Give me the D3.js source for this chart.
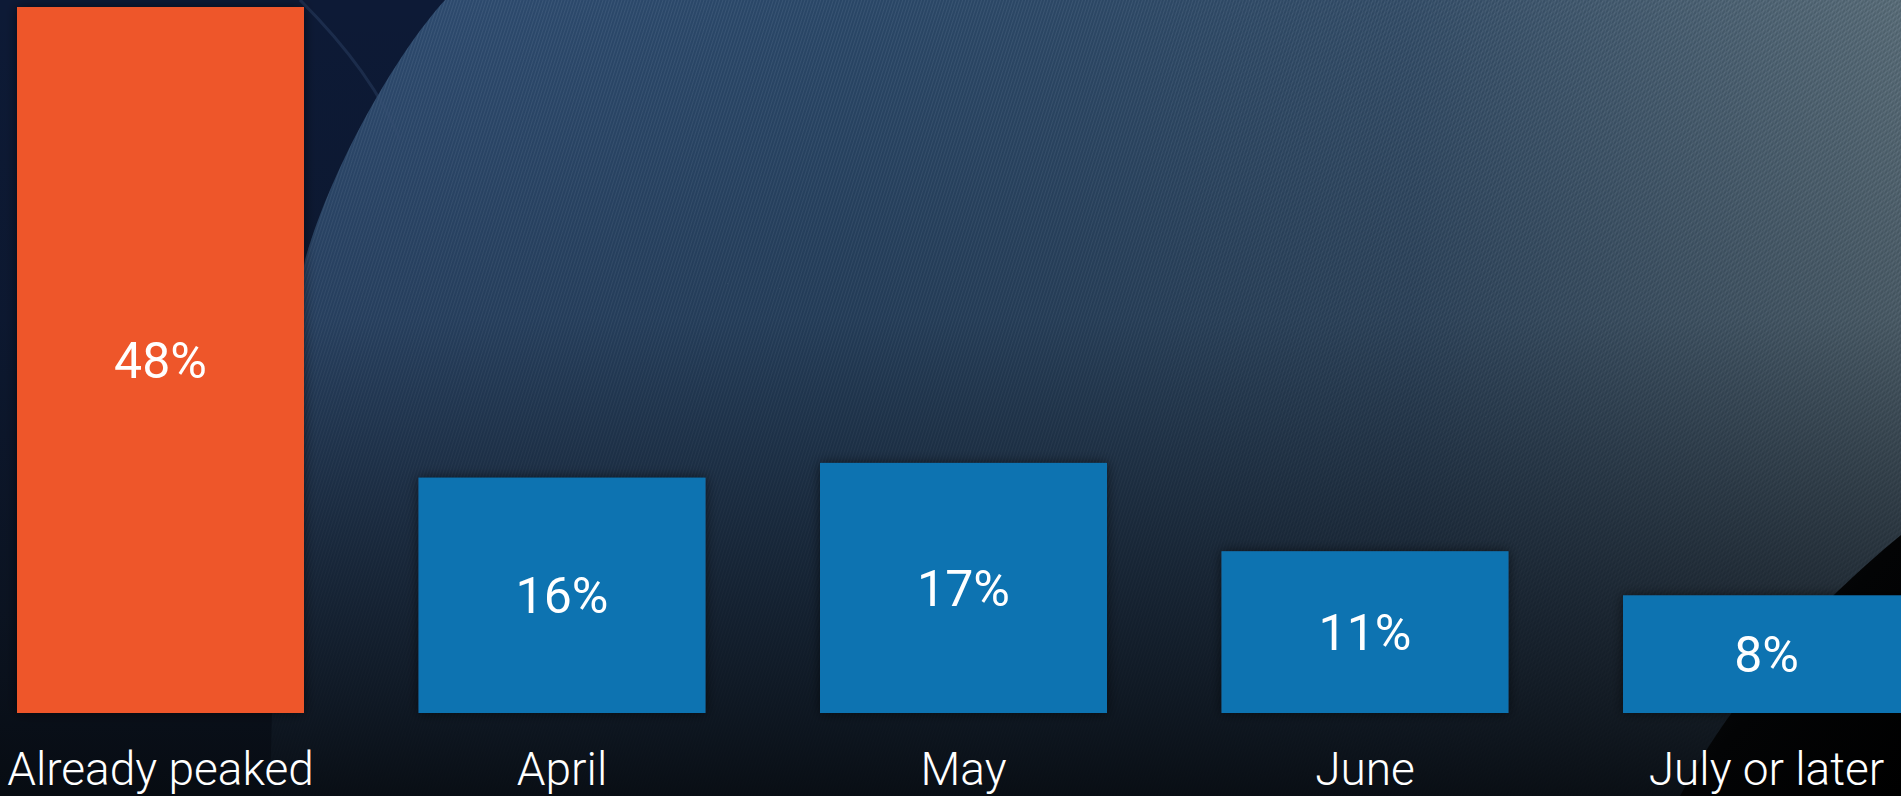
<!DOCTYPE html>
<html>
<head>
<meta charset="utf-8">
<script src="https://cdn.jsdelivr.net/npm/d3@7"></script>
<style>
  html, body { margin: 0; padding: 0; background: #0d1a36; overflow: hidden; }
  svg { display: block; }
  text { font-family: Roboto, "Helvetica Neue", "Liberation Sans", sans-serif; font-weight: 300; fill: #fff; }
</style>
</head>
<body>
<div id="chart"></div>
<script>
// chart data
var categories = ["Already peaked", "April", "May", "June", "July or later"];
var values = [48, 16, 17, 11, 8];
var valueLabels = ["48%", "16%", "17%", "11%", "8%"];
var barColors = ["#ee572a", "#1173b1", "#1173b1", "#1173b1", "#1173b1"];

var width = 1901;
var height = 796;

var svg = d3.select("#chart").append("svg")
    .attr("width", width)
    .attr("height", height);

var defs = svg.append("defs");

// background gradients
var swooshGrad = defs.append("linearGradient")
    .attr("id", "swooshGrad")
    .attr("x1", "0").attr("y1", "0").attr("x2", "1").attr("y2", "0");
swooshGrad.append("stop").attr("offset", "0").attr("stop-color", "#2e4b70");
swooshGrad.append("stop").attr("offset", "0.35").attr("stop-color", "#294666");
swooshGrad.append("stop").attr("offset", "0.7").attr("stop-color", "#2f4862");
swooshGrad.append("stop").attr("offset", "1").attr("stop-color", "#50636e");

var shade = defs.append("linearGradient")
    .attr("id", "shade")
    .attr("x1", "0").attr("y1", "0").attr("x2", "0").attr("y2", "1");
shade.append("stop").attr("offset", "0").attr("stop-color", "#0a1018").attr("stop-opacity", 0);
shade.append("stop").attr("offset", "0.4").attr("stop-color", "#0a1018").attr("stop-opacity", 0.2);
shade.append("stop").attr("offset", "0.78").attr("stop-color", "#0a1018").attr("stop-opacity", 0.72);
shade.append("stop").attr("offset", "1").attr("stop-color", "#070b10").attr("stop-opacity", 0.95);

var cornerGrad = defs.append("linearGradient")
    .attr("id", "cornerGrad")
    .attr("x1", "0").attr("y1", "0").attr("x2", "1").attr("y2", "1");
cornerGrad.append("stop").attr("offset", "0").attr("stop-color", "#101418");
cornerGrad.append("stop").attr("offset", "0.5").attr("stop-color", "#030405");
cornerGrad.append("stop").attr("offset", "1").attr("stop-color", "#000000");

// fine grooves on the swoosh
var lines = defs.append("pattern")
    .attr("id", "lines")
    .attr("patternUnits", "userSpaceOnUse")
    .attr("width", 3).attr("height", 3)
    .attr("patternTransform", "rotate(18)");
lines.append("rect").attr("width", 1).attr("height", 3).attr("fill", "#a9bdd4");

var lines2 = defs.append("pattern")
    .attr("id", "lines2")
    .attr("patternUnits", "userSpaceOnUse")
    .attr("width", 4).attr("height", 4)
    .attr("patternTransform", "rotate(55)");
lines2.append("rect").attr("width", 1.5).attr("height", 4).attr("fill", "#b5c4d0");

var rightMask = defs.append("linearGradient")
    .attr("id", "rightFade")
    .attr("x1", "0").attr("y1", "0").attr("x2", "1").attr("y2", "0");
rightMask.append("stop").attr("offset", "0.55").attr("stop-color", "#fff").attr("stop-opacity", 0);
rightMask.append("stop").attr("offset", "1").attr("stop-color", "#fff").attr("stop-opacity", 1);
defs.append("mask").attr("id", "rightMask")
    .append("rect").attr("width", width).attr("height", height).attr("fill", "url(#rightFade)");

var shadow = defs.append("filter")
    .attr("id", "shadow")
    .attr("x", "-10%").attr("y", "-10%").attr("width", "120%").attr("height", "120%");
shadow.append("feDropShadow")
    .attr("dx", 0).attr("dy", 0)
    .attr("stdDeviation", 6)
    .attr("flood-color", "#000")
    .attr("flood-opacity", 0.55);

var bg = svg.append("g").attr("class", "background");
bg.append("rect").attr("width", width).attr("height", height).attr("fill", "#0d1a36");

var swoosh = "M445,0 C395,55 330,170 305,260 C285,360 275,560 270,796 L" + width + ",796 L" + width + ",0 Z";
bg.append("path").attr("d", swoosh).attr("fill", "url(#swooshGrad)");
bg.append("path").attr("d", swoosh).attr("fill", "url(#lines)").attr("opacity", 0.12);
bg.append("path").attr("d", swoosh).attr("fill", "url(#lines2)").attr("opacity", 0.14)
    .attr("mask", "url(#rightMask)");
bg.append("path")
    .attr("d", "M300,0 C340,40 380,90 400,140")
    .attr("fill", "none").attr("stroke", "#3a5478").attr("stroke-width", 3).attr("opacity", 0.35);
bg.append("rect").attr("width", width).attr("height", height).attr("fill", "url(#shade)");
bg.append("path")
    .attr("d", "M" + width + ",535 C1810,610 1730,700 1680,796 L" + width + ",796 Z")
    .attr("fill", "url(#cornerGrad)");

// scales
var xScale = d3.scaleBand()
    .domain(categories)
    .range([17, 1910])
    .paddingInner(0.2852)
    .paddingOuter(0);

var yScale = d3.scaleLinear()
    .domain([0, 48])
    .range([713, 7]);

var chart = svg.append("g").attr("class", "bars");

chart.selectAll("rect.bar").data(values).enter().append("rect")
    .attr("class", "bar")
    .attr("x", (d, i) => xScale(categories[i]))
    .attr("y", d => yScale(d))
    .attr("width", xScale.bandwidth())
    .attr("height", d => yScale(0) - yScale(d))
    .attr("fill", (d, i) => barColors[i])
    .attr("filter", "url(#shadow)");

chart.selectAll("text.value").data(values).enter().append("text")
    .attr("class", "value")
    .attr("x", (d, i) => xScale(categories[i]) + xScale.bandwidth() / 2)
    .attr("y", d => (yScale(d) + yScale(0)) / 2 + 18)
    .attr("text-anchor", "middle")
    .style("font-weight", 400)
    .style("font-size", "50px")
    .text((d, i) => valueLabels[i]);

// category labels from a bottom axis
var xAxis = d3.axisBottom(xScale).tickSize(0).tickPadding(0);
var axisG = svg.append("g")
    .attr("class", "x axis")
    .attr("transform", "translate(0,785)")
    .call(xAxis);
axisG.select(".domain").remove();
axisG.selectAll("text")
    .attr("y", 0)
    .attr("dy", 0)
    .style("font-size", "46px")
    .style("font-family", "Roboto, 'Helvetica Neue', 'Liberation Sans', sans-serif")
    .style("font-weight", 300)
    .attr("fill", "#fff");
</script>
</body>
</html>
